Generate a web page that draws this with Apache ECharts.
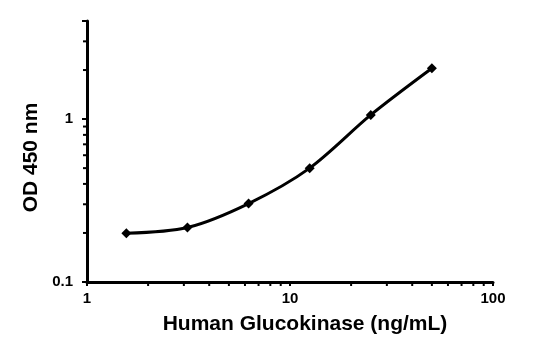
<!DOCTYPE html>
<html><head><meta charset="utf-8">
<script src="https://cdn.jsdelivr.net/npm/echarts@6/dist/echarts.min.js"></script>
<style>html,body{margin:0;padding:0;background:#fff}#c{width:559px;height:340px}</style>
</head><body><div id="c"></div>
<script>
const concentrations = [1.5625, 3.125, 6.25, 12.5, 25, 50];
const odValues = [0.199, 0.216, 0.303, 0.50, 1.06, 2.05];
const xMajorLabels = [1, 10, 100];
const yMajorLabels = [0.1, 1];
const xMinorTicks = [2,3,4,5,6,7,8,9,20,30,40,50,60,70,80,90];
const yMinorTicks = [0.2,0.3,0.4,0.5,0.6,0.7,0.8,0.9,2,3,4];
const xTitle = 'Human Glucokinase (ng/mL)';
const yTitle = 'OD 450 nm';

const chart = echarts.init(document.getElementById('c'));
const fontFam = '"Liberation Sans", Arial, sans-serif';
function fmt(list){return v=>{for(const m of list){if(Math.abs(v-m)/m<1e-6) return String(m);}return '';};}
chart.setOption({
  animation:false,
  grid:{left:87,right:66,top:21,bottom:56},
  xAxis:{type:'log',logBase:10,min:1,max:100,
    name:xTitle,nameLocation:'middle',nameGap:32,
    nameTextStyle:{fontFamily:fontFam,fontWeight:'bold',fontSize:21,color:'#000',padding:[0,0,0,30]},
    axisLine:{lineStyle:{color:'#000',width:3}},
    axisTick:{show:true,length:4,lineStyle:{color:'#000',width:2}},
    axisLabel:{formatter:fmt(xMajorLabels),fontFamily:fontFam,fontWeight:'bold',fontSize:15,color:'#000',margin:9},
    splitLine:{show:false}},
  yAxis:{type:'log',logBase:10,min:0.1,max:4,
    name:yTitle,nameLocation:'middle',nameGap:37,nameRotate:90,
    nameTextStyle:{fontFamily:fontFam,fontWeight:'bold',fontSize:21,color:'#000',padding:[0,12,0,0]},
    axisLine:{lineStyle:{color:'#000',width:3}},
    axisTick:{show:true,length:5,lineStyle:{color:'#000',width:2}},
    axisLabel:{formatter:fmt(yMajorLabels),fontFamily:fontFam,fontWeight:'bold',fontSize:15,color:'#000',margin:14},
    splitLine:{show:false}},
  series:[{type:'line',data:concentrations.map((c,i)=>[c,odValues[i]]),
    smooth:0.3,symbol:'diamond',symbolSize:10,
    lineStyle:{color:'#000',width:3},itemStyle:{color:'#000'}}]
});
const g=[];
xMinorTicks.forEach(v=>{const p=chart.convertToPixel({gridIndex:0},[v,0.1]);
  g.push({type:'line',shape:{x1:p[0],y1:p[1]+1,x2:p[0],y2:p[1]+4},style:{stroke:'#000',lineWidth:2}});});
yMinorTicks.forEach(v=>{const p=chart.convertToPixel({gridIndex:0},[1,v]);
  g.push({type:'line',shape:{x1:p[0]-1,y1:p[1],x2:p[0]-4,y2:p[1]},style:{stroke:'#000',lineWidth:2}});});
chart.setOption({graphic:g});
</script></body></html>
